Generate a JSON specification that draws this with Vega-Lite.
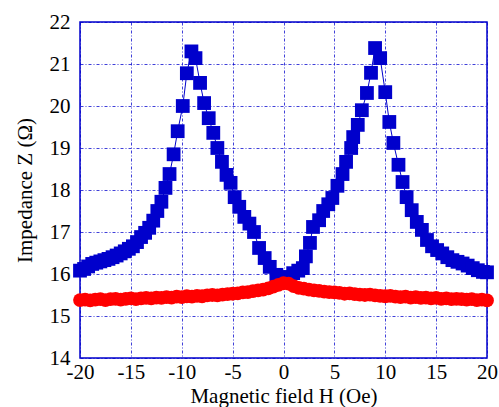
{
  "$schema": "https://vega.github.io/schema/vega-lite/v6.json",
  "width": 407,
  "height": 336,
  "autosize": "none",
  "padding": {"left": 80, "top": 22, "right": 12, "bottom": 49},
  "background": "white",
  "config": {
    "view": {"stroke": "#0000CC", "strokeWidth": 1.5},
    "axis": {
      "labelFont": "Liberation Serif",
      "labelFontSize": 21,
      "labelColor": "black",
      "titleFont": "Liberation Serif",
      "titleFontSize": 21,
      "titleFontWeight": "normal",
      "titleColor": "black",
      "ticks": false,
      "domain": false,
      "grid": true,
      "gridColor": "#0000CC",
      "gridDash": [3, 2, 1, 2],
      "gridOpacity": 0.75,
      "gridWidth": 1,
      "labelExpr": "replace(datum.label, '−', '-')"
    }
  },
  "datasets": {
    "blue": [
      {"H": -20.0, "Z": 16.08}, {"H": -19.6, "Z": 16.12}, {"H": -19.2, "Z": 16.18},
      {"H": -18.8, "Z": 16.24}, {"H": -18.4, "Z": 16.27}, {"H": -18.0, "Z": 16.30},
      {"H": -17.6, "Z": 16.33}, {"H": -17.2, "Z": 16.36}, {"H": -16.8, "Z": 16.40},
      {"H": -16.4, "Z": 16.44}, {"H": -16.0, "Z": 16.49}, {"H": -15.6, "Z": 16.54},
      {"H": -15.2, "Z": 16.60}, {"H": -14.8, "Z": 16.66}, {"H": -14.4, "Z": 16.76},
      {"H": -14.0, "Z": 16.88}, {"H": -13.6, "Z": 16.98}, {"H": -13.2, "Z": 17.10},
      {"H": -12.8, "Z": 17.27}, {"H": -12.4, "Z": 17.50}, {"H": -12.0, "Z": 17.72},
      {"H": -11.6, "Z": 18.05}, {"H": -11.2, "Z": 18.38}, {"H": -10.8, "Z": 18.85},
      {"H": -10.4, "Z": 19.40}, {"H": -9.9, "Z": 20.00}, {"H": -9.5, "Z": 20.78},
      {"H": -9.05, "Z": 21.30}, {"H": -8.65, "Z": 21.14}, {"H": -8.2, "Z": 20.55},
      {"H": -7.8, "Z": 20.07}, {"H": -7.35, "Z": 19.71}, {"H": -6.9, "Z": 19.36},
      {"H": -6.5, "Z": 19.00}, {"H": -6.05, "Z": 18.67}, {"H": -5.6, "Z": 18.36},
      {"H": -5.2, "Z": 18.17}, {"H": -4.8, "Z": 17.83}, {"H": -4.35, "Z": 17.60},
      {"H": -3.85, "Z": 17.36}, {"H": -3.35, "Z": 17.20}, {"H": -2.9, "Z": 17.00},
      {"H": -2.4, "Z": 16.62}, {"H": -1.85, "Z": 16.38}, {"H": -1.35, "Z": 16.17},
      {"H": -0.7, "Z": 15.98}, {"H": -0.05, "Z": 15.90}, {"H": 0.45, "Z": 15.93},
      {"H": 0.95, "Z": 16.02}, {"H": 1.45, "Z": 16.08}, {"H": 1.9, "Z": 16.14},
      {"H": 2.2, "Z": 16.42}, {"H": 2.6, "Z": 16.74}, {"H": 2.9, "Z": 17.12},
      {"H": 3.5, "Z": 17.28}, {"H": 3.9, "Z": 17.50}, {"H": 4.4, "Z": 17.66},
      {"H": 4.8, "Z": 17.81}, {"H": 5.3, "Z": 18.10}, {"H": 5.8, "Z": 18.38},
      {"H": 6.15, "Z": 18.67}, {"H": 6.65, "Z": 19.00}, {"H": 6.85, "Z": 19.26},
      {"H": 7.3, "Z": 19.55}, {"H": 7.7, "Z": 19.90}, {"H": 8.2, "Z": 20.31},
      {"H": 8.6, "Z": 20.79}, {"H": 9.0, "Z": 21.38}, {"H": 9.5, "Z": 21.14},
      {"H": 10.0, "Z": 20.33}, {"H": 10.4, "Z": 19.62}, {"H": 10.8, "Z": 19.12},
      {"H": 11.3, "Z": 18.60}, {"H": 11.7, "Z": 18.19}, {"H": 12.1, "Z": 17.83},
      {"H": 12.6, "Z": 17.52}, {"H": 13.1, "Z": 17.24}, {"H": 13.6, "Z": 17.05},
      {"H": 14.1, "Z": 16.81}, {"H": 14.6, "Z": 16.66}, {"H": 15.1, "Z": 16.57},
      {"H": 15.6, "Z": 16.49}, {"H": 16.1, "Z": 16.40}, {"H": 16.6, "Z": 16.33},
      {"H": 17.1, "Z": 16.29}, {"H": 17.6, "Z": 16.25}, {"H": 18.1, "Z": 16.20},
      {"H": 18.6, "Z": 16.14}, {"H": 19.1, "Z": 16.09}, {"H": 19.6, "Z": 16.05},
      {"H": 20.0, "Z": 16.04}
    ],
    "red": [
      {"H": -20, "Z": 15.38}, {"H": -19.5, "Z": 15.39}, {"H": -19, "Z": 15.37},
      {"H": -18.5, "Z": 15.39}, {"H": -18, "Z": 15.40}, {"H": -17.5, "Z": 15.38},
      {"H": -17, "Z": 15.40}, {"H": -16.5, "Z": 15.41}, {"H": -16, "Z": 15.39},
      {"H": -15.5, "Z": 15.41}, {"H": -15, "Z": 15.42}, {"H": -14.5, "Z": 15.40},
      {"H": -14, "Z": 15.42}, {"H": -13.5, "Z": 15.43}, {"H": -13, "Z": 15.42},
      {"H": -12.5, "Z": 15.44}, {"H": -12, "Z": 15.43}, {"H": -11.5, "Z": 15.45},
      {"H": -11, "Z": 15.44}, {"H": -10.5, "Z": 15.46}, {"H": -10, "Z": 15.45},
      {"H": -9.5, "Z": 15.47}, {"H": -9, "Z": 15.46}, {"H": -8.5, "Z": 15.48},
      {"H": -8, "Z": 15.47}, {"H": -7.5, "Z": 15.49}, {"H": -7, "Z": 15.50},
      {"H": -6.5, "Z": 15.49}, {"H": -6, "Z": 15.51}, {"H": -5.5, "Z": 15.52},
      {"H": -5, "Z": 15.53}, {"H": -4.5, "Z": 15.54}, {"H": -4, "Z": 15.56},
      {"H": -3.5, "Z": 15.57}, {"H": -3, "Z": 15.59}, {"H": -2.5, "Z": 15.61},
      {"H": -2, "Z": 15.63}, {"H": -1.5, "Z": 15.66}, {"H": -1, "Z": 15.70},
      {"H": -0.5, "Z": 15.74}, {"H": 0, "Z": 15.78}, {"H": 0.5, "Z": 15.77},
      {"H": 1, "Z": 15.71}, {"H": 1.5, "Z": 15.67}, {"H": 2, "Z": 15.65},
      {"H": 2.5, "Z": 15.63}, {"H": 3, "Z": 15.61}, {"H": 3.5, "Z": 15.60},
      {"H": 4, "Z": 15.58}, {"H": 4.5, "Z": 15.57}, {"H": 5, "Z": 15.56},
      {"H": 5.5, "Z": 15.55}, {"H": 6, "Z": 15.53}, {"H": 6.5, "Z": 15.54},
      {"H": 7, "Z": 15.52}, {"H": 7.5, "Z": 15.51}, {"H": 8, "Z": 15.50},
      {"H": 8.5, "Z": 15.51}, {"H": 9, "Z": 15.49}, {"H": 9.5, "Z": 15.48},
      {"H": 10, "Z": 15.47}, {"H": 10.5, "Z": 15.48}, {"H": 11, "Z": 15.46},
      {"H": 11.5, "Z": 15.45}, {"H": 12, "Z": 15.46}, {"H": 12.5, "Z": 15.44},
      {"H": 13, "Z": 15.45}, {"H": 13.5, "Z": 15.43}, {"H": 14, "Z": 15.44},
      {"H": 14.5, "Z": 15.42}, {"H": 15, "Z": 15.43}, {"H": 15.5, "Z": 15.41},
      {"H": 16, "Z": 15.42}, {"H": 16.5, "Z": 15.40}, {"H": 17, "Z": 15.41},
      {"H": 17.5, "Z": 15.40}, {"H": 18, "Z": 15.39}, {"H": 18.5, "Z": 15.40},
      {"H": 19, "Z": 15.38}, {"H": 19.5, "Z": 15.39}, {"H": 20, "Z": 15.37}
    ]
  },
  "encoding": {
    "x": {
      "field": "H",
      "type": "quantitative",
      "scale": {"domain": [-20, 20], "nice": false},
      "axis": {
        "values": [-20, -15, -10, -5, 0, 5, 10, 15, 20],
        "title": "Magnetic field H (Oe)",
        "labelPadding": 3,
        "titlePadding": 3,
        "labelFlush": false,
        "labelOverlap": false
      }
    },
    "y": {
      "field": "Z",
      "type": "quantitative",
      "scale": {"domain": [14, 22], "nice": false},
      "axis": {
        "values": [14, 15, 16, 17, 18, 19, 20, 21, 22],
        "title": "Impedance Z (Ω)",
        "labelPadding": 10,
        "titlePadding": 14,
        "labelFlush": false,
        "labelOverlap": false
      }
    }
  },
  "layer": [
    {
      "data": {"name": "blue"},
      "mark": {"type": "line", "color": "#0000CC", "strokeWidth": 1},
      "encoding": {"order": {"field": "H", "type": "quantitative"}}
    },
    {
      "data": {"name": "blue"},
      "mark": {"type": "point", "shape": "square", "filled": true, "color": "#0000CC", "size": 190, "opacity": 1}
    },
    {
      "data": {"name": "red"},
      "mark": {"type": "point", "shape": "circle", "filled": true, "color": "#FF0000", "size": 190, "opacity": 1}
    }
  ]
}
